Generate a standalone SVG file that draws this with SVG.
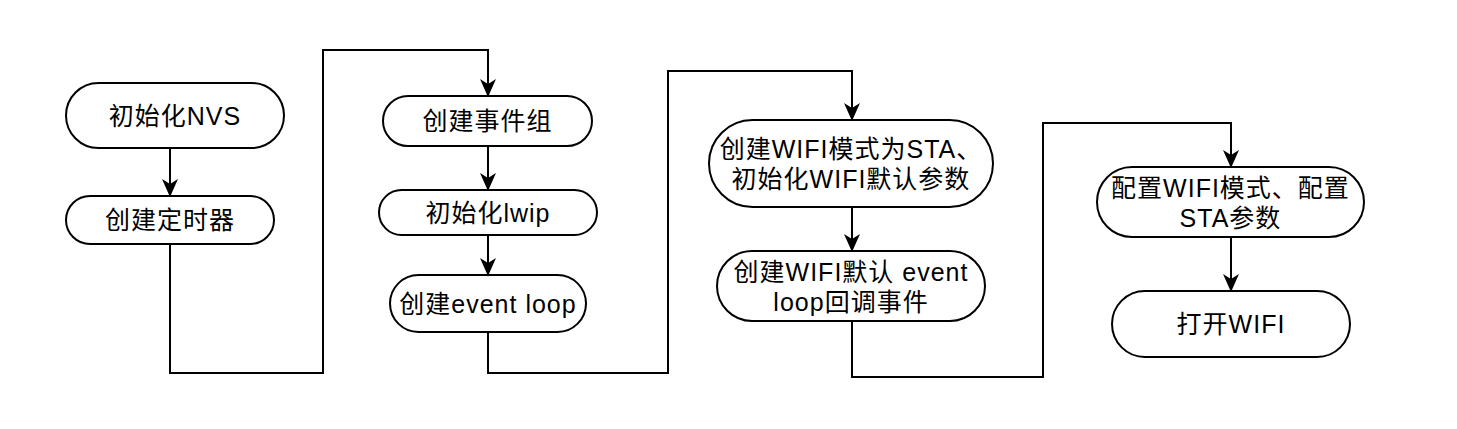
<svg xmlns="http://www.w3.org/2000/svg" width="1457" height="429" viewBox="0 0 1457 429">
<style>
.n{fill:#fff;stroke:#000;stroke-width:2}
.t{font-family:"Liberation Sans","Noto Sans CJK SC",sans-serif;font-size:25px;letter-spacing:1px;fill:#000;text-anchor:middle;dominant-baseline:central}
.c{fill:none;stroke:#000;stroke-width:2}
</style>
<defs>
<marker id="a" markerWidth="18" markerHeight="18" viewBox="0 0 18 18" refX="17" refY="9" orient="auto" markerUnits="userSpaceOnUse">
<path d="M0,1 L18,9 L0,17 L5,9 Z" fill="#000"/>
</marker>
</defs>
<rect width="1457" height="429" fill="#fff"/>
<g id="connectors">
<path class="c" d="M170,148 V196" marker-end="url(#a)"/>
<path class="c" d="M170,244 V373 H323 V50 H488 V96" marker-end="url(#a)"/>
<path class="c" d="M488,146 V190" marker-end="url(#a)"/>
<path class="c" d="M488,235 V275" marker-end="url(#a)"/>
<path class="c" d="M488,332 V373 H668 V71 H852 V120" marker-end="url(#a)"/>
<path class="c" d="M852,207 V251" marker-end="url(#a)"/>
<path class="c" d="M852,321 V377 H1043 V123 H1231 V167" marker-end="url(#a)"/>
<path class="c" d="M1231,237 V291" marker-end="url(#a)"/>
</g>
<g id="n1"><rect class="n" x="66" y="83" width="218" height="65" rx="32.5"/><text class="t" x="175" y="115.5">初始化NVS</text></g>
<g id="n2"><rect class="n" x="66" y="196" width="208" height="48" rx="24"/><text class="t" x="170" y="220">创建定时器</text></g>
<g id="n3"><rect class="n" x="383" y="96" width="209" height="50" rx="25"/><text class="t" x="487.5" y="121">创建事件组</text></g>
<g id="n4"><rect class="n" x="379" y="190" width="218" height="45" rx="22.5"/><text class="t" x="488" y="212.5">初始化lwip</text></g>
<g id="n5"><rect class="n" x="390" y="275" width="196" height="57" rx="28.5"/><text class="t" x="488" y="303.5">创建event loop</text></g>
<g id="n6"><rect class="n" x="709" y="120" width="284" height="87" rx="43.5"/><text class="t" x="851" y="148.5">创建WIFI模式为STA、</text><text class="t" x="851" y="178.5">初始化WIFI默认参数</text></g>
<g id="n7"><rect class="n" x="717" y="251" width="268" height="70" rx="35"/><text class="t" x="851" y="271.5">创建WIFI默认 event</text><text class="t" x="851" y="301.5">loop回调事件</text></g>
<g id="n8"><rect class="n" x="1097" y="167" width="267" height="70" rx="35"/><text class="t" x="1230.5" y="187.5">配置WIFI模式、配置</text><text class="t" x="1230.5" y="217.5">STA参数</text></g>
<g id="n9"><rect class="n" x="1112" y="291" width="238" height="66" rx="33"/><text class="t" x="1231" y="324">打开WIFI</text></g>
</svg>
